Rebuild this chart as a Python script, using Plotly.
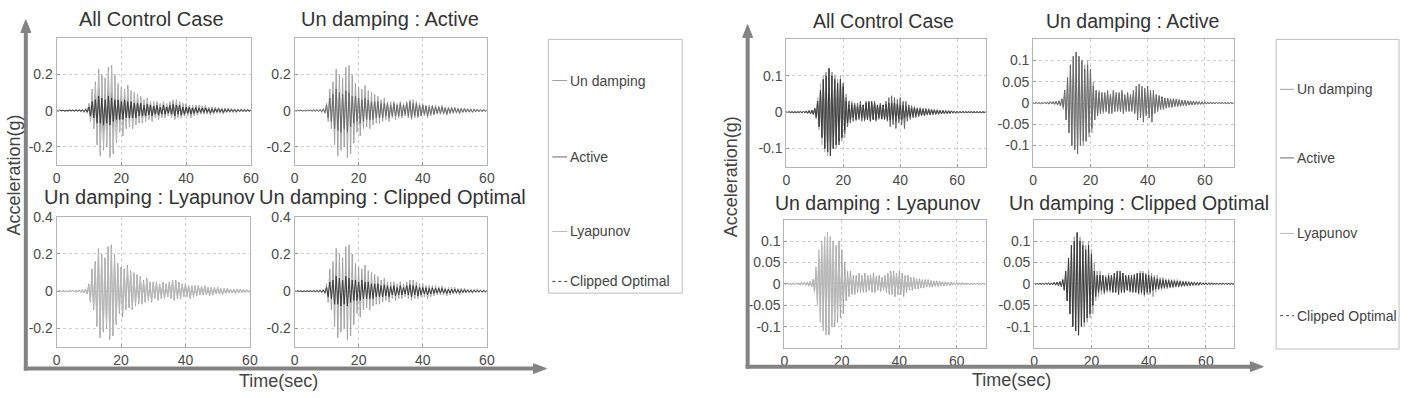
import plotly.graph_objects as go

W, H = 1418, 398
FONT = "Liberation Sans, Arial, sans-serif"

# ---------------- data ----------------
series_names = ["Un damping", "Active", "Lyapunov", "Clipped Optimal"]
panel_titles = ["All Control Case", "Un damping : Active",
                "Un damping : Lyapunov", "Un damping : Clipped Optimal"]
dt = 0.5  # seconds between read-off peaks

# left group (0-60 s)
undamped_left = [
    0.002, -0.003, 0.003, -0.002, 0.003, -0.003, 0.002, -0.003, 0.003, -0.002,
    0.004, -0.005, 0.006, -0.005, 0.007, -0.006, 0.008, -0.01, 0.012, -0.015,
    0.04, -0.06, 0.12, -0.1, 0.16, -0.19, 0.23, -0.25, 0.2, -0.22,
    0.18, -0.2, 0.24, -0.26, 0.25, -0.24, 0.2, -0.18, 0.15, -0.12,
    0.13, -0.14, 0.12, -0.1, 0.14, -0.09, 0.11, -0.1, 0.1, -0.08,
    0.09, -0.07, 0.08, -0.07, 0.06, -0.06, 0.07, -0.05, 0.05, -0.06,
    0.05, -0.04, 0.05, -0.05, 0.04, -0.04, 0.05, -0.04, 0.04, -0.03,
    0.05, -0.04, 0.06, -0.05, 0.06, -0.04, 0.05, -0.04, 0.04, -0.03,
    0.04, -0.03, 0.03, -0.04, 0.03, -0.03, 0.03, -0.025, 0.03, -0.02,
    0.025, -0.02, 0.03, -0.02, 0.02, -0.025, 0.02, -0.02, 0.02, -0.015,
    0.02, -0.015, 0.015, -0.02, 0.015, -0.012, 0.015, -0.01, 0.012, -0.01,
    0.01, -0.012, 0.01, -0.008, 0.01, -0.008, 0.008, -0.007, 0.008, -0.006,
    0.005]
active_left = [
    0.001, -0.002, 0.002, -0.001, 0.002, -0.002, 0.001, -0.002, 0.002, -0.001,
    0.003, -0.003, 0.004, -0.004, 0.005, -0.004, 0.005, -0.006, 0.008, -0.01,
    0.03, -0.04, 0.07, -0.06, 0.09, -0.1, 0.12, -0.11, 0.1, -0.12,
    0.09, -0.1, 0.11, -0.12, 0.1, -0.09, 0.08, -0.07, 0.08, -0.06,
    0.07, -0.07, 0.06, -0.06, 0.07, -0.05, 0.06, -0.05, 0.05, -0.05,
    0.05, -0.04, 0.05, -0.04, 0.04, -0.04, 0.04, -0.03, 0.04, -0.04,
    0.03, -0.03, 0.04, -0.03, 0.03, -0.03, 0.04, -0.03, 0.03, -0.02,
    0.04, -0.03, 0.05, -0.04, 0.04, -0.03, 0.04, -0.03, 0.03, -0.03,
    0.03, -0.02, 0.025, -0.03, 0.02, -0.02, 0.025, -0.02, 0.02, -0.015,
    0.02, -0.015, 0.02, -0.015, 0.015, -0.02, 0.015, -0.012, 0.015, -0.01,
    0.012, -0.01, 0.01, -0.012, 0.01, -0.008, 0.01, -0.008, 0.008, -0.007,
    0.007, -0.008, 0.006, -0.006, 0.007, -0.005, 0.005, -0.005, 0.005, -0.004,
    0.003]
lyapunov_left = [
    0.002, -0.002, 0.003, -0.002, 0.002, -0.003, 0.002, -0.002, 0.003, -0.002,
    0.004, -0.004, 0.005, -0.005, 0.006, -0.006, 0.007, -0.009, 0.01, -0.013,
    0.035, -0.05, 0.1, -0.09, 0.14, -0.17, 0.21, -0.23, 0.18, -0.2,
    0.17, -0.18, 0.22, -0.24, 0.23, -0.22, 0.18, -0.16, 0.13, -0.11,
    0.12, -0.12, 0.11, -0.09, 0.12, -0.08, 0.1, -0.09, 0.09, -0.07,
    0.08, -0.06, 0.07, -0.06, 0.05, -0.05, 0.06, -0.045, 0.045, -0.05,
    0.045, -0.035, 0.045, -0.045, 0.035, -0.035, 0.045, -0.035, 0.035, -0.03,
    0.045, -0.035, 0.055, -0.045, 0.05, -0.035, 0.045, -0.035, 0.035, -0.025,
    0.035, -0.025, 0.025, -0.035, 0.025, -0.025, 0.025, -0.02, 0.025, -0.018,
    0.02, -0.018, 0.025, -0.018, 0.018, -0.02, 0.018, -0.018, 0.018, -0.012,
    0.018, -0.012, 0.012, -0.018, 0.012, -0.01, 0.012, -0.009, 0.01, -0.009,
    0.009, -0.01, 0.009, -0.007, 0.009, -0.007, 0.007, -0.006, 0.007, -0.005,
    0.004]
clipped_left = [
    0.001, -0.001, 0.002, -0.001, 0.001, -0.002, 0.001, -0.001, 0.002, -0.001,
    0.002, -0.002, 0.003, -0.003, 0.003, -0.003, 0.004, -0.005, 0.006, -0.008,
    0.02, -0.03, 0.05, -0.04, 0.06, -0.07, 0.08, -0.07, 0.07, -0.08,
    0.06, -0.07, 0.08, -0.08, 0.07, -0.06, 0.06, -0.05, 0.06, -0.05,
    0.05, -0.05, 0.06, -0.04, 0.05, -0.04, 0.05, -0.04, 0.04, -0.04,
    0.04, -0.03, 0.04, -0.03, 0.03, -0.03, 0.035, -0.025, 0.03, -0.03,
    0.025, -0.02, 0.03, -0.025, 0.02, -0.02, 0.03, -0.02, 0.02, -0.015,
    0.03, -0.02, 0.035, -0.03, 0.03, -0.02, 0.03, -0.025, 0.02, -0.02,
    0.02, -0.015, 0.018, -0.02, 0.015, -0.015, 0.018, -0.012, 0.015, -0.01,
    0.015, -0.01, 0.015, -0.01, 0.01, -0.012, 0.01, -0.01, 0.01, -0.008,
    0.01, -0.008, 0.008, -0.01, 0.008, -0.006, 0.008, -0.006, 0.006, -0.005,
    0.005, -0.006, 0.005, -0.004, 0.005, -0.004, 0.004, -0.004, 0.004, -0.003,
    0.002]

# right group (0-70 s)
undamped_right = [
    0.001, -0.001, 0.002, -0.001, 0.001, -0.002, 0.001, -0.001, 0.002, -0.001,
    0.002, -0.003, 0.003, -0.002, 0.004, -0.003, 0.004, -0.005, 0.006, -0.007,
    0.01, -0.015, 0.03, -0.04, 0.06, -0.07, 0.09, -0.1, 0.11, -0.11,
    0.12, -0.12, 0.11, -0.1, 0.1, -0.1, 0.09, -0.09, 0.1, -0.08,
    0.08, -0.07, 0.05, -0.04, 0.03, -0.03, 0.03, -0.025, 0.02, -0.025,
    0.02, -0.02, 0.025, -0.02, 0.02, -0.02, 0.025, -0.02, 0.02, -0.015,
    0.02, -0.02, 0.025, -0.02, 0.018, -0.015, 0.02, -0.018, 0.015, -0.015,
    0.02, -0.02, 0.025, -0.025, 0.03, -0.025, 0.03, -0.03, 0.025, -0.025,
    0.03, -0.025, 0.025, -0.03, 0.02, -0.02, 0.02, -0.015, 0.015, -0.015,
    0.015, -0.012, 0.012, -0.012, 0.012, -0.01, 0.01, -0.01, 0.01, -0.008,
    0.01, -0.008, 0.008, -0.008, 0.007, -0.006, 0.007, -0.006, 0.006, -0.005,
    0.005, -0.005, 0.005, -0.004, 0.004, -0.004, 0.004, -0.003, 0.003, -0.003,
    0.003, -0.003, 0.003, -0.002, 0.003, -0.002, 0.002, -0.002, 0.002, -0.002,
    0.002, -0.002, 0.002, -0.001, 0.002, -0.002, 0.001, -0.002, 0.002, -0.001,
    0.001]
active_right = [
    0.001, -0.001, 0.001, -0.001, 0.001, -0.001, 0.001, -0.001, 0.001, -0.001,
    0.002, -0.002, 0.003, -0.002, 0.003, -0.003, 0.004, -0.004, 0.005, -0.006,
    0.01, -0.01, 0.03, -0.04, 0.06, -0.07, 0.09, -0.1, 0.11, -0.11,
    0.12, -0.12, 0.11, -0.1, 0.1, -0.09, 0.08, -0.09, 0.09, -0.07,
    0.08, -0.06, 0.04, -0.04, 0.03, -0.03, 0.025, -0.025, 0.025, -0.02,
    0.025, -0.02, 0.03, -0.025, 0.02, -0.025, 0.03, -0.02, 0.025, -0.02,
    0.025, -0.02, 0.03, -0.025, 0.02, -0.02, 0.025, -0.02, 0.02, -0.02,
    0.03, -0.025, 0.04, -0.04, 0.045, -0.035, 0.04, -0.045, 0.035, -0.03,
    0.04, -0.035, 0.03, -0.045, 0.03, -0.025, 0.02, -0.02, 0.018, -0.015,
    0.015, -0.015, 0.012, -0.012, 0.012, -0.01, 0.01, -0.01, 0.01, -0.008,
    0.009, -0.008, 0.008, -0.007, 0.007, -0.006, 0.006, -0.006, 0.005, -0.005,
    0.005, -0.004, 0.004, -0.004, 0.004, -0.003, 0.003, -0.003, 0.003, -0.003,
    0.003, -0.002, 0.002, -0.002, 0.002, -0.002, 0.002, -0.002, 0.002, -0.001,
    0.002, -0.001, 0.001, -0.001, 0.001, -0.001, 0.001, -0.001, 0.001, -0.001,
    0.001]
lyapunov_right = [
    0.001, -0.001, 0.001, -0.001, 0.001, -0.001, 0.001, -0.001, 0.001, -0.001,
    0.002, -0.002, 0.002, -0.002, 0.003, -0.003, 0.004, -0.004, 0.005, -0.007,
    0.01, -0.02, 0.04, -0.05, 0.08, -0.09, 0.1, -0.11, 0.11, -0.12,
    0.12, -0.11, 0.11, -0.1, 0.1, -0.09, 0.08, -0.07, 0.06, -0.05,
    0.04, -0.03, 0.02, -0.015, 0.015, -0.012, 0.015, -0.01, 0.012, -0.01,
    0.012, -0.01, 0.015, -0.012, 0.015, -0.01, 0.018, -0.012, 0.02, -0.015,
    0.018, -0.012, 0.015, -0.01, 0.012, -0.01, 0.012, -0.01, 0.015, -0.012,
    0.018, -0.015, 0.02, -0.02, 0.025, -0.02, 0.025, -0.025, 0.022, -0.02,
    0.02, -0.015, 0.015, -0.012, 0.012, -0.01, 0.01, -0.01, 0.01, -0.008,
    0.01, -0.008, 0.009, -0.008, 0.008, -0.007, 0.008, -0.006, 0.007, -0.006,
    0.006, -0.005, 0.006, -0.005, 0.005, -0.004, 0.005, -0.004, 0.004, -0.004,
    0.004, -0.003, 0.003, -0.003, 0.003, -0.003, 0.003, -0.002, 0.002, -0.002,
    0.002, -0.002, 0.002, -0.002, 0.002, -0.001, 0.001, -0.001, 0.001, -0.001,
    0.001, -0.001, 0.001, -0.001, 0.001, -0.001, 0.001, -0.001, 0.001, -0.001,
    0.001]
clipped_right = [
    0.001, -0.001, 0.001, -0.001, 0.001, -0.001, 0.001, -0.001, 0.001, -0.001,
    0.002, -0.002, 0.002, -0.002, 0.003, -0.003, 0.004, -0.004, 0.005, -0.006,
    0.01, -0.015, 0.03, -0.04, 0.06, -0.07, 0.09, -0.1, 0.1, -0.11,
    0.12, -0.12, 0.1, -0.1, 0.09, -0.09, 0.08, -0.08, 0.09, -0.07,
    0.07, -0.05, 0.03, -0.03, 0.02, -0.02, 0.02, -0.015, 0.02, -0.02,
    0.015, -0.015, 0.02, -0.015, 0.02, -0.02, 0.025, -0.02, 0.03, -0.025,
    0.03, -0.02, 0.025, -0.02, 0.02, -0.015, 0.02, -0.018, 0.02, -0.02,
    0.022, -0.02, 0.025, -0.022, 0.025, -0.02, 0.025, -0.025, 0.022, -0.02,
    0.02, -0.02, 0.018, -0.015, 0.015, -0.012, 0.012, -0.012, 0.01, -0.01,
    0.01, -0.009, 0.009, -0.008, 0.008, -0.008, 0.008, -0.007, 0.007, -0.006,
    0.006, -0.006, 0.006, -0.005, 0.005, -0.005, 0.005, -0.004, 0.004, -0.004,
    0.004, -0.003, 0.003, -0.003, 0.003, -0.003, 0.003, -0.002, 0.002, -0.002,
    0.002, -0.002, 0.002, -0.002, 0.002, -0.001, 0.001, -0.001, 0.001, -0.001,
    0.001, -0.001, 0.001, -0.001, 0.001, -0.001, 0.001, -0.001, 0.001, -0.001,
    0.001]

left_series = [undamped_left, active_left, lyapunov_left, clipped_left]
right_series = [undamped_right, active_right, lyapunov_right, clipped_right]
panel_members = [[0, 1, 2, 3], [0, 1], [0, 2], [0, 3]]

x_ticks_left = [0, 20, 40, 60]
x_ticks_right = [0, 20, 40, 60]
y_ticks_left_top = [-0.2, 0, 0.2]
y_ticks_left_bottom = [-0.2, 0, 0.2, 0.4]
y_ticks_right_first = [-0.1, 0, 0.1]
y_ticks_right_other = [-0.1, -0.05, 0, 0.05, 0.1]

# ---------------- styling / layout ----------------
colors = ["#a2a2a2", "#6a6a6a", "#b8b8b8", "#3c3c3c"]
legend_dashes = ["solid", "solid", "solid", "dot"]


def px(x):
    return x / W


def py(y):
    return 1 - y / H


def fmt(v):
    return "%g" % v


left_boxes = [(53, 249, 31, 160), (293, 487, 31, 160), (53, 248, 213, 346), (293, 487, 213, 346)]
right_boxes = [(789, 990, 32, 162), (1038, 1240, 32, 162), (787, 990, 216, 347), (1039, 1241, 216, 347)]

fig = go.Figure()
layout_axes = {}
annotations = []
shapes = []

groups = [
    dict(series=left_series, boxes=left_boxes, xr=[0, 60], xt=x_ticks_left,
         yr=[[-0.3, 0.4]] * 4,
         yt=[y_ticks_left_top, y_ticks_left_top, y_ticks_left_bottom, y_ticks_left_bottom],
         tsize=20, tpos=[(149, 11), (389, 11), (147, 193), (392, 193)]),
    dict(series=right_series, boxes=right_boxes, xr=[0, 70], xt=x_ticks_right,
         yr=[[-0.15, 0.2], [-0.15, 0.15], [-0.15, 0.15], [-0.15, 0.15]],
         yt=[y_ticks_right_first, y_ticks_right_other, y_ticks_right_other, y_ticks_right_other],
         tsize=19.5, tpos=[(887, 13), (1138, 13), (881, 199), (1145, 199)]),
]

ax_i = 0
for g in groups:
    for p in range(4):
        ax_i += 1
        xa = "x" if ax_i == 1 else "x%d" % ax_i
        ya = "y" if ax_i == 1 else "y%d" % ax_i
        x0, x1, y0, y1 = g["boxes"][p]
        for s in panel_members[p]:
            vals = g["series"][s]
            t = [i * dt for i in range(len(vals))]
            fig.add_trace(go.Scatter(
                x=t, y=vals, mode="lines", xaxis=xa, yaxis=ya,
                line=dict(color=colors[s], width=1),
                showlegend=False, name=series_names[s], hoverinfo="skip"))
        common = dict(showline=True, mirror=True, linecolor="#b5b5b5", linewidth=1,
                      showgrid=True, gridcolor="#cfcfcf", griddash="dot", gridwidth=1,
                      zeroline=False, ticks="inside", ticklen=3, tickcolor="#999",
                      tickfont=dict(family=FONT, size=14, color="#4a4a4a"),
                      fixedrange=True)
        layout_axes["xaxis" if ax_i == 1 else "xaxis%d" % ax_i] = dict(
            common, domain=[px(x0), px(x1)], range=g["xr"], anchor=ya,
            tickvals=g["xt"], ticktext=[fmt(v) for v in g["xt"]])
        layout_axes["yaxis" if ax_i == 1 else "yaxis%d" % ax_i] = dict(
            common, domain=[py(y1), py(y0)], range=g["yr"][p], anchor=xa,
            tickvals=g["yt"][p], ticktext=[fmt(v) for v in g["yt"][p]])
        tx, ty = g["tpos"][p]
        annotations.append(dict(text=panel_titles[p], x=px(tx), y=py(ty), xref="paper", yref="paper",
                                xanchor="center", yanchor="middle", showarrow=False,
                                font=dict(family=FONT, size=g["tsize"], color="#333333")))

# axis labels
for (x, y) in [(10, 170), (733, 172)]:
    annotations.append(dict(text="Acceleration(g)", x=px(x), y=py(y), xref="paper", yref="paper",
                            textangle=-90, showarrow=False, xanchor="center", yanchor="middle",
                            font=dict(family=FONT, size=18, color="#444444")))
for (x, y) in [(277, 381), (1016, 380)]:
    annotations.append(dict(text="Time(sec)", x=px(x), y=py(y), xref="paper", yref="paper",
                            showarrow=False, xanchor="center", yanchor="middle",
                            font=dict(family=FONT, size=18, color="#444444")))

# L-shaped arrows
ARROW = "#838383"
for (vx, top, bot, right) in [(22, 12, 368, 547), (750, 17, 366, 1270)]:
    shapes.append(dict(type="line", xref="paper", yref="paper",
                       x0=px(vx), x1=px(vx), y0=py(bot + 2), y1=py(top + 10),
                       line=dict(color=ARROW, width=4)))
    shapes.append(dict(type="line", xref="paper", yref="paper",
                       x0=px(vx - 2), x1=px(right - 10), y0=py(bot), y1=py(bot),
                       line=dict(color=ARROW, width=4)))
    shapes.append(dict(type="path", xref="paper", yref="paper", fillcolor=ARROW,
                       line=dict(color=ARROW, width=1),
                       path="M %f %f L %f %f L %f %f Z" % (px(vx), py(top), px(vx - 5), py(top + 13),
                                                          px(vx + 5), py(top + 13))))
    shapes.append(dict(type="path", xref="paper", yref="paper", fillcolor=ARROW,
                       line=dict(color=ARROW, width=1),
                       path="M %f %f L %f %f L %f %f Z" % (px(right), py(bot), px(right - 13), py(bot - 5),
                                                          px(right - 13), py(bot + 5))))

# legend boxes (drawn manually)
legend_specs = [
    dict(box=(549, 32, 684, 291), ys=[74, 152, 228, 279], lx=(553, 568)),
    dict(box=(1283, 32, 1407, 348), ys=[83, 153, 230, 314], lx=(1287, 1301)),
]
for spec in legend_specs:
    bx0, by0, bx1, by1 = spec["box"]
    shapes.append(dict(type="rect", xref="paper", yref="paper",
                       x0=px(bx0), x1=px(bx1), y0=py(by1), y1=py(by0),
                       line=dict(color="#bdbdbd", width=1), fillcolor="rgba(0,0,0,0)"))
    for k, yy in enumerate(spec["ys"]):
        shapes.append(dict(type="line", xref="paper", yref="paper",
                           x0=px(spec["lx"][0]), x1=px(spec["lx"][1]), y0=py(yy), y1=py(yy),
                           line=dict(color=colors[k], width=1, dash=legend_dashes[k])))
        annotations.append(dict(text=series_names[k], x=px(spec["lx"][1] + 1), y=py(yy),
                                xref="paper", yref="paper", xanchor="left", yanchor="middle",
                                showarrow=False,
                                font=dict(family=FONT, size=14, color="#444444")))

fig.update_layout(
    width=W, height=H, margin=dict(l=0, r=0, t=0, b=0),
    paper_bgcolor="white", plot_bgcolor="white",
    showlegend=False, annotations=annotations, shapes=shapes,
    **layout_axes)

fig.write_html("out.html", config={"displayModeBar": False})
